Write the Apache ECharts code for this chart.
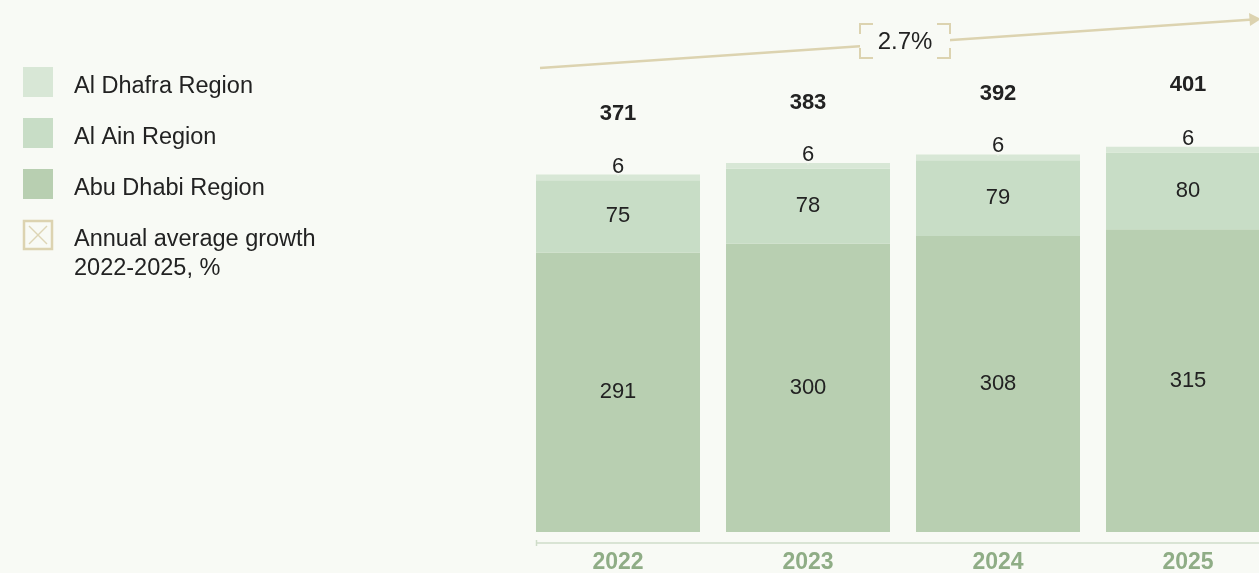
<!DOCTYPE html>
<html>
<head>
<meta charset="utf-8">
<script src="https://cdn.jsdelivr.net/npm/echarts@6/dist/echarts.min.js"></script>
<style>
  html, body { margin: 0; padding: 0; background: #f8faf5; }
  #chart { width: 1259px; height: 573px; }
</style>
</head>
<body>
<div id="chart"></div>
<script>
// Population by region, thousands
const years = ['2022', '2023', '2024', '2025'];
const abuDhabi = [291, 300, 308, 315];
const alAin = [75, 78, 79, 80];
const alDhafra = [6, 6, 6, 6];
const totals = [371, 383, 392, 401];
const growthLabel = '2.7%';

const seriesNames = ['Al Dhafra Region', 'Al Ain Region', 'Abu Dhabi Region'];
const growthName = 'Annual average growth\n2022-2025, %';

const COLORS = {
  dhafra: '#d8e7d6',
  ain: '#c8ddc6',
  abu: '#b8cfb1',
  gold: '#dcd3b0',
  text: '#222222',
  axis: '#8fad86',
  axisLine: '#cfdcc8',
  bg: '#f8faf5'
};
const FONT = 'Liberation Sans, Arial, Helvetica, sans-serif';

const chart = echarts.init(document.getElementById('chart'));

// Legend drawn as graphic items on the left
const legendColors = [COLORS.dhafra, COLORS.ain, COLORS.abu];
const legendGraphics = [];
seriesNames.forEach((name, i) => {
  const y = 67 + i * 51;
  legendGraphics.push({
    type: 'rect', left: 23, top: y,
    shape: { width: 30, height: 30 },
    style: { fill: legendColors[i] }
  });
  legendGraphics.push({
    type: 'text',
    style: { text: name, x: 74, y: y + 20, verticalAlign: 'middle', fill: COLORS.text, font: '23.5px ' + FONT }
  });
});
const gy = 67 + 3 * 51;
legendGraphics.push({
  type: 'rect',
  shape: { x: 24, y: gy + 1, width: 28, height: 28 },
  style: { fill: 'none', stroke: COLORS.gold, lineWidth: 2.5 }
});
legendGraphics.push({
  type: 'polyline', shape: { points: [[29, gy + 6], [47, gy + 24]] },
  style: { stroke: '#ddd5b6', lineWidth: 1.5 }
});
legendGraphics.push({
  type: 'polyline', shape: { points: [[47, gy + 6], [29, gy + 24]] },
  style: { stroke: '#ddd5b6', lineWidth: 1.5 }
});
legendGraphics.push({
  type: 'text',
  style: { text: growthName, x: 74, y: gy + 5, fill: COLORS.text, font: '23.5px ' + FONT, lineHeight: 29 }
});

// Growth arrow with bracketed label
const arrowStart = [540, 68];
const arrowEnd = [1259, 19];
const box = { x: 860, y: 24, w: 90, h: 34, cx: 13, cy: 10 };
const arrowGraphics = [
  {
    type: 'line',
    shape: { x1: arrowStart[0], y1: arrowStart[1], x2: arrowEnd[0] - 6, y2: arrowEnd[1] + 0.4 },
    style: { stroke: COLORS.gold, lineWidth: 2.5 }
  },
  {
    type: 'polygon',
    shape: { points: [[arrowEnd[0] + 2, arrowEnd[1]], [arrowEnd[0] - 10, arrowEnd[1] - 6], [arrowEnd[0] - 9, arrowEnd[1] + 7]] },
    style: { fill: COLORS.gold }
  },
  {
    type: 'rect',
    shape: { x: box.x, y: box.y, width: box.w, height: box.h },
    style: { fill: COLORS.bg }
  }
];
const corners = [
  [[box.x + box.cx, box.y], [box.x, box.y], [box.x, box.y + box.cy]],
  [[box.x + box.w - box.cx, box.y], [box.x + box.w, box.y], [box.x + box.w, box.y + box.cy]],
  [[box.x, box.y + box.h - box.cy], [box.x, box.y + box.h], [box.x + box.cx, box.y + box.h]],
  [[box.x + box.w, box.y + box.h - box.cy], [box.x + box.w, box.y + box.h], [box.x + box.w - box.cx, box.y + box.h]]
];
corners.forEach(pts => arrowGraphics.push({
  type: 'polyline', shape: { points: pts },
  style: { stroke: COLORS.gold, lineWidth: 2, fill: 'none' }
}));
arrowGraphics.push({
  type: 'text',
  style: {
    text: growthLabel, x: box.x + box.w / 2, y: box.y + box.h / 2 + 1,
    align: 'center', verticalAlign: 'middle',
    fill: COLORS.text, font: '24px ' + FONT
  }
});

// Baseline below the bars, with a small end tick
const baseY = 543;
const axisGraphics = [
  { type: 'line', shape: { x1: 536, y1: baseY, x2: 1259, y2: baseY }, style: { stroke: COLORS.axisLine, lineWidth: 1.5 } },
  { type: 'line', shape: { x1: 536.5, y1: baseY - 3, x2: 536.5, y2: baseY + 3 }, style: { stroke: COLORS.axisLine, lineWidth: 1.5 } }
];

const labelBase = { color: COLORS.text, fontFamily: FONT, fontSize: 22 };

chart.setOption({
  backgroundColor: COLORS.bg,
  animation: false,
  grid: { left: 523, top: 90, width: 760, bottom: 41, outerBoundsMode: 'none', containLabel: false },
  xAxis: {
    type: 'category',
    data: years,
    axisLine: { show: false },
    axisTick: { show: false },
    axisLabel: { color: COLORS.axis, fontWeight: 'bold', fontSize: 23, fontFamily: FONT, margin: 19 }
  },
  yAxis: { type: 'value', min: 0, max: 460, show: false, splitLine: { show: false } },
  series: [
    {
      name: seriesNames[2], type: 'bar', stack: 'pop', data: abuDhabi,
      barWidth: 164, itemStyle: { color: COLORS.abu },
      label: { show: true, position: 'inside', ...labelBase }
    },
    {
      name: seriesNames[1], type: 'bar', stack: 'pop', data: alAin,
      itemStyle: { color: COLORS.ain },
      label: { show: true, position: 'inside', ...labelBase }
    },
    {
      name: seriesNames[0], type: 'bar', stack: 'pop', data: alDhafra,
      itemStyle: { color: COLORS.dhafra },
      label: { show: true, position: 'top', distance: -3, ...labelBase }
    },
    {
      name: 'Total', type: 'scatter', data: totals,
      symbolSize: 1, itemStyle: { color: COLORS.bg, opacity: 1 }, silent: true,
      label: { show: true, position: 'top', distance: 50, ...labelBase, color: COLORS.text, fontWeight: 'bold' },
      emphasis: { disabled: true }
    }
  ],
  graphic: legendGraphics.concat(arrowGraphics, axisGraphics)
});
</script>
</body>
</html>
